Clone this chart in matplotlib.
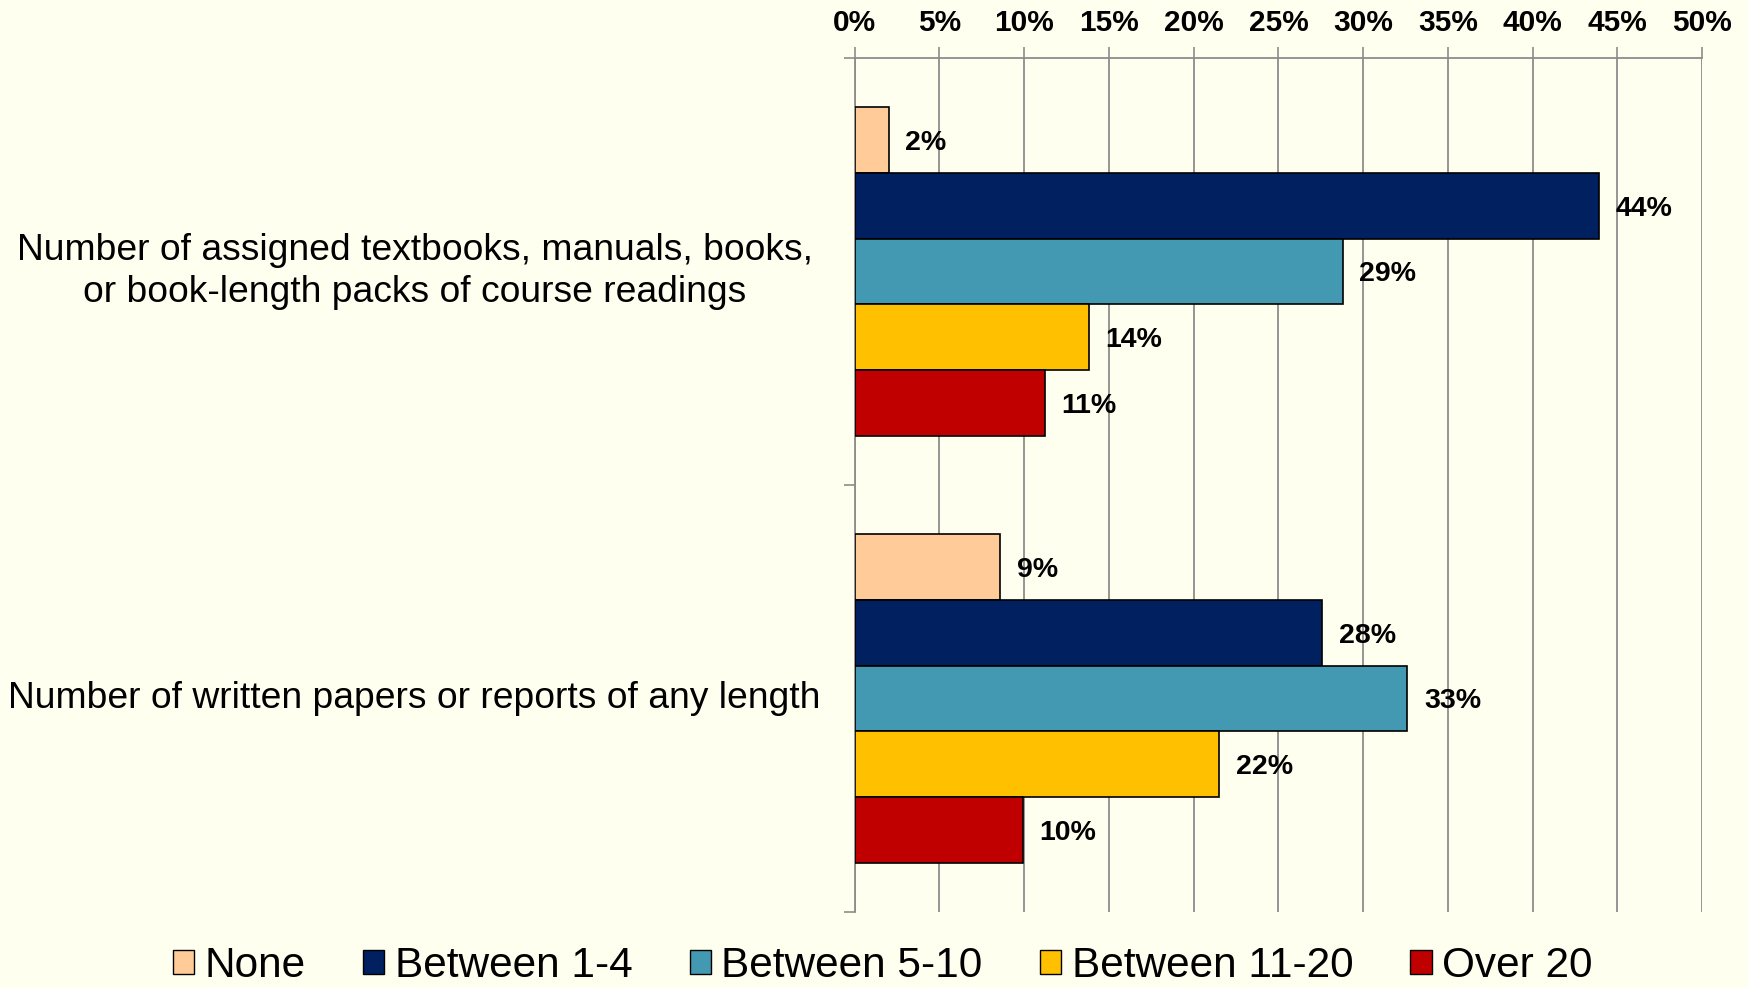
import matplotlib
matplotlib.use("Agg")
import matplotlib.pyplot as plt
from matplotlib.patches import Patch
import numpy as np

categories = ["Number of assigned textbooks, manuals, books,\nor book-length packs of course readings",
              "Number of written papers or reports of any length"]
series_names = ["None", "Between 1-4", "Between 5-10", "Between 11-20", "Over 20"]
series_values = [
    [2.0, 8.6],     # None
    [43.9, 27.6],   # Between 1-4
    [28.8, 32.6],   # Between 5-10
    [13.8, 21.5],   # Between 11-20
    [11.2, 9.9],    # Over 20
]
colors = ["#FFCC99", "#002060", "#4399B1", "#FFC000", "#C00000"]
xticks = [0, 5, 10, 15, 20, 25, 30, 35, 40, 45, 50]

bg = "#FFFFF0"
grid_c = "#8C8C8C"

plt.rcParams['font.family'] = ['Liberation Sans', 'DejaVu Sans']

fig = plt.figure(figsize=(17.48, 9.88), dpi=100, facecolor=bg)
ax = fig.add_axes([0.489, 0.0769, 0.9737 - 0.489, 0.9413 - 0.0769])
ax.set_facecolor(bg)

n = len(series_names)
bar_h = 0.154
y = np.arange(len(categories))
for i, (name, vals, c) in enumerate(zip(series_names, series_values, colors)):
    pos = y + (i - (n - 1) / 2) * bar_h
    bars = ax.barh(pos, vals, height=bar_h, color=c, edgecolor="black", linewidth=1.2, zorder=3, label=name)
    for b, v in zip(bars, vals):
        ax.annotate(f"{round(v):.0f}%", xy=(v, b.get_y() + b.get_height() / 2),
                    xytext=(12, -2), textcoords="offset points", ha="left", va="center",
                    fontsize=20.5, fontweight="bold", color="black", zorder=4)

ax.set_xlim(0, 50)
ax.set_ylim(len(categories) - 0.5, -0.5)
ax.xaxis.tick_top()
ax.set_xticks(xticks)
ax.set_xticklabels([f"{t}%" for t in xticks], fontsize=21.5, fontweight="bold")
ax.tick_params(axis="x", which="major", direction="out", length=8, width=1.2, color=grid_c, pad=7)
ax.xaxis.grid(True, color=grid_c, linewidth=1.3, zorder=0)
ax.set_axisbelow(True)

ax.set_yticks(np.arange(len(categories) + 1) - 0.5)
ax.set_yticklabels([])
ax.tick_params(axis="y", which="major", direction="out", length=8, width=1.2, color=grid_c)

for s in ["right", "bottom"]:
    ax.spines[s].set_visible(False)
for s in ["left", "top"]:
    ax.spines[s].set_color(grid_c)
    ax.spines[s].set_linewidth(1.3)

trans = ax.get_yaxis_transform()
for yi, cat in zip(y, categories):
    ax.text(-0.5195, yi, cat, transform=trans, ha="center", va="center",
            fontsize=26.8, multialignment="center", linespacing=1.25, color="black")

handles = [Patch(facecolor=c, edgecolor="black", linewidth=1.0) for c in colors]
fig.legend(handles, series_names, loc="center", bbox_to_anchor=(0.505, 0.022), ncol=5,
           frameon=False, fontsize=30.5, handlelength=0.5, handleheight=0.5,
           handletextpad=0.25, columnspacing=1.35, borderpad=0, borderaxespad=0)

fig.savefig("out.png", dpi=100, facecolor=bg)
